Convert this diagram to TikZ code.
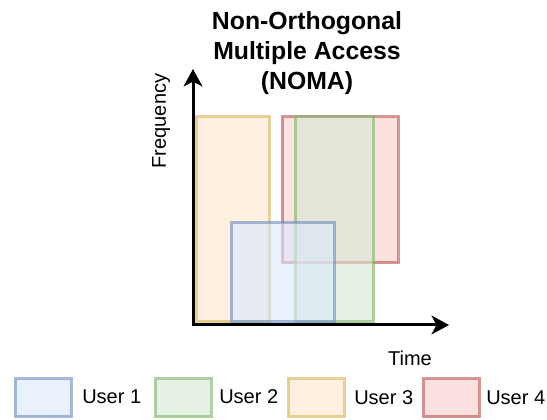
\documentclass[tikz,border=0pt]{standalone}
\usepackage{fontspec}
\setmainfont{Liberation Sans}
\usetikzlibrary{arrows.meta,fit}
\definecolor{bluef}{HTML}{DAE8FC}\definecolor{blues}{HTML}{6C8EBF}
\definecolor{greenf}{HTML}{D5E8D4}\definecolor{greens}{HTML}{82B366}
\definecolor{yelf}{HTML}{FFE6CC}\definecolor{yels}{HTML}{D6B656}
\definecolor{redf}{HTML}{F8CECC}\definecolor{reds}{HTML}{B85450}
\tikzset{
  box/.style={rectangle, inner sep=0pt, line width=2.25pt, opacity=0.6},
  ubox/.style={box, fill=#1f, draw=#1s},
  axis/.style={line width=2.25pt, {Stealth[length=13pt,width=14pt,inset=3.5pt]}-{Stealth[length=13pt,width=14pt,inset=3.5pt]}},
  lbl/.style={font=\fontsize{15}{17}\selectfont, inner sep=0pt},
}
\begin{document}
\begin{tikzpicture}[x=0.75pt,y=-0.75pt]
\useasboundingbox (0,0) rectangle (547,420);
% title
\node[font=\fontsize{18.6}{22.5}\selectfont\bfseries, align=center] (title) at (307,53) {Non-Orthogonal\\Multiple Access\\(NOMA)};
% rectangles
\node[ubox=yel, fit={(196,117) (269,322)}] (u3) {};
\node[ubox=red, fit={(282,117) (398,263)}] (u4) {};
\node[ubox=green, fit={(295,117) (373,322)}] (u2) {};
\node[ubox=blue, fit={(231,223) (334,322)}] (u1) {};
% axes
\coordinate (ytip) at (193,69);
\coordinate (xtip) at (449,325);
\draw[axis] (ytip) |- (xtip);
\node[lbl, rotate=90] (freq) at (161,121) {Frequency};
\node[lbl] (time) at (410,358) {Time};
% legend
\node[ubox=blue, fit={(15,379) (71,417)}] (l1) {};
\node[lbl, anchor=west] (t1) at (82,397) {User 1};
\node[ubox=green, fit={(155,379) (211,417)}] (l2) {};
\node[lbl, anchor=west] (t2) at (219,397) {User 2};
\node[ubox=yel, fit={(288,379) (344,417)}] (l3) {};
\node[lbl, anchor=west] (t3) at (354,398) {User 3};
\node[ubox=red, fit={(423,379) (479,417)}] (l4) {};
\node[lbl, anchor=west] (t4) at (486,398) {User 4};
\end{tikzpicture}
\end{document}
